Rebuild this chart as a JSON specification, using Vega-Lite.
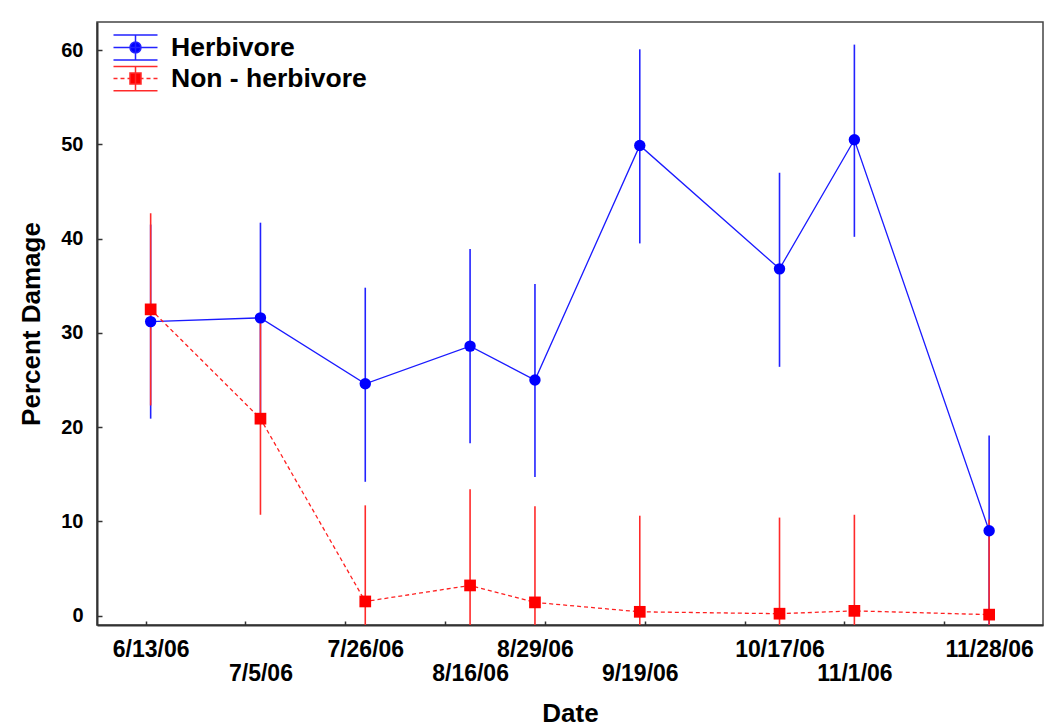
{
  "$schema": "https://vega.github.io/schema/vega-lite/v6.json",
  "width": 946,
  "height": 603,
  "autosize": {"type": "none"},
  "padding": {"left": 97, "top": 22, "right": 7, "bottom": 102},
  "background": "white",
  "config": {
    "view": {"stroke": "#444444", "strokeWidth": 1.5},
    "font": "Liberation Sans",
    "axis": {
      "grid": false,
      "domainColor": "#333333",
      "domainWidth": 2,
      "tickColor": "#333333",
      "tickWidth": 1.5,
      "labelFont": "Liberation Sans",
      "labelFontWeight": "bold",
      "labelColor": "#000000",
      "titleFont": "Liberation Sans",
      "titleFontWeight": "bold",
      "titleColor": "#000000",
      "titleFontSize": 26
    },
    "legend": {
      "title": null,
      "orient": "none",
      "legendX": 25,
      "legendY": 12,
      "padding": 0,
      "symbolSize": 625,
      "symbolStrokeWidth": 1.5,
      "labelFont": "Liberation Sans",
      "labelFontWeight": "bold",
      "labelFontSize": 26.5,
      "labelColor": "#000000",
      "labelLimit": 400,
      "labelOffset": 22,
      "rowPadding": 0
    }
  },
  "data": {
    "values": [
      {"date": "2006-06-13", "group": "Herbivore", "mean": 31.2, "low": 20.9, "high": 41.5},
      {"date": "2006-07-05", "group": "Herbivore", "mean": 31.6, "low": 21.5, "high": 41.7},
      {"date": "2006-07-26", "group": "Herbivore", "mean": 24.6, "low": 14.2, "high": 34.8},
      {"date": "2006-08-16", "group": "Herbivore", "mean": 28.6, "low": 18.3, "high": 38.9},
      {"date": "2006-08-29", "group": "Herbivore", "mean": 25.0, "low": 14.7, "high": 35.2},
      {"date": "2006-09-19", "group": "Herbivore", "mean": 49.9, "low": 39.5, "high": 60.1},
      {"date": "2006-10-17", "group": "Herbivore", "mean": 36.8, "low": 26.4, "high": 47.0},
      {"date": "2006-11-01", "group": "Herbivore", "mean": 50.5, "low": 40.2, "high": 60.6},
      {"date": "2006-11-28", "group": "Herbivore", "mean": 9.0, "low": -1.1, "high": 19.1},
      {"date": "2006-06-13", "group": "Non - herbivore", "mean": 32.5, "low": 22.3, "high": 42.7},
      {"date": "2006-07-05", "group": "Non - herbivore", "mean": 20.9, "low": 10.7, "high": 31.1},
      {"date": "2006-07-26", "group": "Non - herbivore", "mean": 1.5, "low": -8.7, "high": 11.7},
      {"date": "2006-08-16", "group": "Non - herbivore", "mean": 3.2, "low": -7.0, "high": 13.4},
      {"date": "2006-08-29", "group": "Non - herbivore", "mean": 1.4, "low": -8.8, "high": 11.6},
      {"date": "2006-09-19", "group": "Non - herbivore", "mean": 0.4, "low": -9.9, "high": 10.6},
      {"date": "2006-10-17", "group": "Non - herbivore", "mean": 0.2, "low": -10.0, "high": 10.4},
      {"date": "2006-11-01", "group": "Non - herbivore", "mean": 0.5, "low": -9.7, "high": 10.7},
      {"date": "2006-11-28", "group": "Non - herbivore", "mean": 0.1, "low": -10.1, "high": 10.2}
    ]
  },
  "layer": [
    {
      "transform": [{"filter": "datum.group === 'Herbivore'"}],
      "mark": {"type": "rule", "color": "#2222ff", "strokeWidth": 1.6, "clip": true},
      "encoding": {
        "x": {
          "field": "date", "type": "temporal",
          "scale": {"type": "utc", "domain": [{"year": 2006, "month": 6, "date": 2, "hours": 6, "utc": true}, {"year": 2006, "month": 12, "date": 8, "hours": 19, "utc": true}]},
          "axis": {
            "orient": "bottom",
            "title": null,
            "labels": false,
            "tickSize": -4,
            "values": [
              {"year": 2006, "month": 6, "date": 12, "utc": true},
              {"year": 2006, "month": 7, "date": 2, "utc": true},
              {"year": 2006, "month": 7, "date": 22, "utc": true},
              {"year": 2006, "month": 8, "date": 11, "utc": true},
              {"year": 2006, "month": 8, "date": 31, "utc": true},
              {"year": 2006, "month": 9, "date": 20, "utc": true},
              {"year": 2006, "month": 10, "date": 10, "utc": true},
              {"year": 2006, "month": 10, "date": 30, "utc": true},
              {"year": 2006, "month": 11, "date": 19, "utc": true}
            ]
          }
        },
        "y": {
          "field": "low", "type": "quantitative",
          "scale": {"domain": [-1, 63], "nice": false, "zero": false},
          "axis": {"title": "Percent Damage", "titlePadding": 16, "values": [0, 10, 20, 30, 40, 50, 60], "tickSize": -5, "labelPadding": 19, "labelFontSize": 20}
        },
        "y2": {"field": "high"}
      }
    },
    {
      "transform": [{"filter": "datum.group === 'Non - herbivore'"}],
      "mark": {"type": "rule", "color": "#ff2a2a", "strokeWidth": 1.6, "clip": true},
      "encoding": {
        "x": {
          "field": "date", "type": "temporal",
          "scale": {"type": "utc", "domain": [{"year": 2006, "month": 6, "date": 2, "hours": 6, "utc": true}, {"year": 2006, "month": 12, "date": 8, "hours": 19, "utc": true}]},
          "axis": {
            "orient": "bottom",
            "title": null,
            "ticks": false,
            "domain": false,
            "labelExpr": "utcFormat(datum.value, '%-m/%-d/%y')",
            "labelFontSize": 23,
            "labelPadding": 13,
            "labelFlush": false,
            "labelOverlap": false,
            "values": [
              {"year": 2006, "month": 6, "date": 13, "utc": true},
              {"year": 2006, "month": 7, "date": 26, "utc": true},
              {"year": 2006, "month": 8, "date": 29, "utc": true},
              {"year": 2006, "month": 10, "date": 17, "utc": true},
              {"year": 2006, "month": 11, "date": 28, "utc": true}
            ]
          }
        },
        "y": {
          "field": "low", "type": "quantitative",
          "scale": {"domain": [-1, 63], "nice": false, "zero": false},
          "axis": {"title": "Percent Damage", "titlePadding": 16, "values": [0, 10, 20, 30, 40, 50, 60], "tickSize": -5, "labelPadding": 19, "labelFontSize": 20}
        },
        "y2": {"field": "high"}
      }
    },
    {
      "transform": [{"filter": "datum.group === 'Herbivore'"}],
      "mark": {"type": "line", "color": "#1a1aff", "strokeWidth": 1.3},
      "encoding": {
        "x": {
          "field": "date", "type": "temporal",
          "scale": {"type": "utc", "domain": [{"year": 2006, "month": 6, "date": 2, "hours": 6, "utc": true}, {"year": 2006, "month": 12, "date": 8, "hours": 19, "utc": true}]},
          "axis": {
            "orient": "bottom",
            "title": "Date",
            "titlePadding": 15,
            "ticks": false,
            "domain": false,
            "labelExpr": "utcFormat(datum.value, '%-m/%-d/%y')",
            "labelFontSize": 23,
            "labelPadding": 37,
            "labelFlush": false,
            "labelOverlap": false,
            "values": [
              {"year": 2006, "month": 7, "date": 5, "utc": true},
              {"year": 2006, "month": 8, "date": 16, "utc": true},
              {"year": 2006, "month": 9, "date": 19, "utc": true},
              {"year": 2006, "month": 11, "date": 1, "utc": true}
            ]
          }
        },
        "y": {
          "field": "mean", "type": "quantitative",
          "scale": {"domain": [-1, 63], "nice": false, "zero": false},
          "axis": {"title": "Percent Damage", "titlePadding": 16, "values": [0, 10, 20, 30, 40, 50, 60], "tickSize": -5, "labelPadding": 19, "labelFontSize": 20}
        }
      }
    },
    {
      "transform": [{"filter": "datum.group === 'Non - herbivore'"}],
      "mark": {"type": "line", "color": "#ff2020", "strokeWidth": 1.3, "strokeDash": [4, 3]},
      "encoding": {
        "x": {
          "field": "date", "type": "temporal",
          "scale": {"type": "utc", "domain": [{"year": 2006, "month": 6, "date": 2, "hours": 6, "utc": true}, {"year": 2006, "month": 12, "date": 8, "hours": 19, "utc": true}]},
          "axis": null
        },
        "y": {
          "field": "mean", "type": "quantitative",
          "scale": {"domain": [-1, 63], "nice": false, "zero": false},
          "axis": {"title": "Percent Damage", "titlePadding": 16, "values": [0, 10, 20, 30, 40, 50, 60], "tickSize": -5, "labelPadding": 19, "labelFontSize": 20}
        }
      }
    },
    {
      "transform": [{"filter": "datum.group === 'Herbivore'"}],
      "mark": {"type": "point", "shape": "circle", "filled": true, "size": 130, "color": "#0000ff", "opacity": 1},
      "encoding": {
        "x": {
          "field": "date", "type": "temporal",
          "scale": {"type": "utc", "domain": [{"year": 2006, "month": 6, "date": 2, "hours": 6, "utc": true}, {"year": 2006, "month": 12, "date": 8, "hours": 19, "utc": true}]},
          "axis": null
        },
        "y": {
          "field": "mean", "type": "quantitative",
          "scale": {"domain": [-1, 63], "nice": false, "zero": false},
          "axis": {"title": "Percent Damage", "titlePadding": 16, "values": [0, 10, 20, 30, 40, 50, 60], "tickSize": -5, "labelPadding": 19, "labelFontSize": 20}
        }
      }
    },
    {
      "transform": [{"filter": "datum.group === 'Non - herbivore'"}],
      "mark": {"type": "point", "shape": "square", "filled": true, "size": 137, "color": "#ff0000", "opacity": 1},
      "encoding": {
        "x": {
          "field": "date", "type": "temporal",
          "scale": {"type": "utc", "domain": [{"year": 2006, "month": 6, "date": 2, "hours": 6, "utc": true}, {"year": 2006, "month": 12, "date": 8, "hours": 19, "utc": true}]},
          "axis": null
        },
        "y": {
          "field": "mean", "type": "quantitative",
          "scale": {"domain": [-1, 63], "nice": false, "zero": false},
          "axis": {"title": "Percent Damage", "titlePadding": 16, "values": [0, 10, 20, 30, 40, 50, 60], "tickSize": -5, "labelPadding": 19, "labelFontSize": 20}
        }
      }
    },
    {
      "transform": [{"filter": "datum.mean > 1000"}],
      "mark": {"type": "point", "filled": true, "opacity": 1, "strokeWidth": 1.5},
      "encoding": {
        "x": {
          "field": "date", "type": "temporal",
          "scale": {"type": "utc", "domain": [{"year": 2006, "month": 6, "date": 2, "hours": 6, "utc": true}, {"year": 2006, "month": 12, "date": 8, "hours": 19, "utc": true}]},
          "axis": null
        },
        "y": {
          "field": "mean", "type": "quantitative",
          "scale": {"domain": [-1, 63], "nice": false, "zero": false},
          "axis": {"title": "Percent Damage", "titlePadding": 16, "values": [0, 10, 20, 30, 40, 50, 60], "tickSize": -5, "labelPadding": 19, "labelFontSize": 20}
        },
        "fill": {
          "field": "group", "type": "nominal",
          "scale": {"domain": ["Herbivore", "Non - herbivore"], "range": ["#0000ff", "#ff0000"]}
        },
        "stroke": {
          "field": "group", "type": "nominal",
          "scale": {"domain": ["Herbivore", "Non - herbivore"], "range": ["#2222ff", "#ff2a2a"]}
        },
        "shape": {
          "field": "group", "type": "nominal",
          "scale": {
            "domain": ["Herbivore", "Non - herbivore"],
            "range": [
              "M-1.76,0H1.76M0,-1V1M-1.76,-1H1.76M-1.76,1H1.76M0.44,0A0.44,0.44,0,1,1,-0.44,0A0.44,0.44,0,1,1,0.44,0Z",
              "M-1.76,0H-1.44M-1.2,0H-0.88M-0.64,0H-0.4M0.4,0H0.64M0.88,0H1.2M1.44,0H1.76M0,-0.97V0.97M-1.76,-0.97H1.76M-1.76,0.97H1.76M-0.44,-0.44H0.44V0.44H-0.44Z"
            ]
          }
        }
      }
    }
  ],
  "resolve": {"axis": {"x": "independent"}}
}
